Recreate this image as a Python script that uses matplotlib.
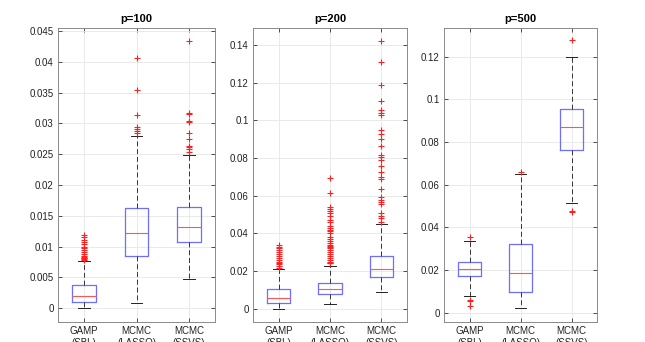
import matplotlib
matplotlib.use("Agg")
import matplotlib.pyplot as plt
from matplotlib.ticker import FuncFormatter

categories = ["GAMP\n(SBL)", "MCMC\n(LASSO)", "MCMC\n(SSVS)"]
titles = ["p=100", "p=200", "p=500"]

# p=100 : [whislo, q1, med, q3, whishi]
p100_stats = [
    [0.0000, 0.00097, 0.00194, 0.0037, 0.0076],
    [0.0008, 0.0084, 0.0122, 0.0162, 0.0280],
    [0.0048, 0.0107, 0.0132, 0.0164, 0.0248],
]
p100_fliers = [
    [0.0079, 0.0080, 0.0081, 0.0082, 0.0083, 0.0085, 0.0088, 0.0091, 0.0094,
     0.0097, 0.0100, 0.0104, 0.0108, 0.0111, 0.0116, 0.0119],
    [0.0285, 0.0288, 0.0291, 0.0294, 0.0313, 0.0355, 0.0407],
    [0.0254, 0.0258, 0.0261, 0.0264, 0.0274, 0.0284, 0.0302, 0.0304,
     0.0315, 0.0317, 0.0434],
]

# p=200
p200_stats = [
    [0.0000, 0.0028, 0.0055, 0.0103, 0.0209],
    [0.0023, 0.0076, 0.0103, 0.0138, 0.0227],
    [0.0087, 0.0166, 0.0209, 0.0281, 0.0448],
]
p200_fliers = [
    [0.0215, 0.0225, 0.0235, 0.0240, 0.0250, 0.0260, 0.0270, 0.0280, 0.0290,
     0.0300, 0.0310, 0.0320, 0.0330, 0.0338],
    [0.0240, 0.0245, 0.0250, 0.0260, 0.0270, 0.0280, 0.0290, 0.0300, 0.0310,
     0.0320, 0.0330, 0.0335, 0.0340, 0.0350, 0.0360, 0.0370, 0.0380, 0.0400,
     0.0410, 0.0420, 0.0430, 0.0440, 0.0460, 0.0470, 0.0490, 0.0510, 0.0520,
     0.0530, 0.0540, 0.0615, 0.0694],
    [0.0462, 0.0480, 0.0492, 0.0506, 0.0554, 0.0565, 0.0577, 0.0595, 0.0637,
     0.0688, 0.0701, 0.0727, 0.0759, 0.0789, 0.0807, 0.0816, 0.0865, 0.0899,
     0.0926, 0.0949, 0.1028, 0.1040, 0.1055, 0.1104, 0.1188, 0.1308, 0.1423],
]

# p=500
p500_stats = [
    [0.0078, 0.0172, 0.0203, 0.0239, 0.0336],
    [0.0020, 0.0095, 0.0184, 0.0320, 0.0648],
    [0.0513, 0.0764, 0.0869, 0.0955, 0.1200],
]
p500_fliers = [
    [0.0031, 0.0055, 0.0059, 0.0353],
    [0.0659],
    [0.0472, 0.0478, 0.1277],
]

yticks_list = [
    [0, 0.005, 0.01, 0.015, 0.02, 0.025, 0.03, 0.035, 0.04, 0.045],
    [0, 0.02, 0.04, 0.06, 0.08, 0.1, 0.12, 0.14],
    [0, 0.02, 0.04, 0.06, 0.08, 0.1, 0.12],
]
ylims = [(-0.0022, 0.0455), (-0.0069, 0.149), (-0.0042, 0.1334)]

all_stats = [p100_stats, p200_stats, p500_stats]
all_fliers = [p100_fliers, p200_fliers, p500_fliers]

plt.rcParams['font.family'] = ['Liberation Sans', 'DejaVu Sans']

fig = plt.figure(figsize=(6.45, 3.42), dpi=100)
W, H = 645, 342
axes_px = [(58, 215), (253, 407), (444, 597)]
top_px, bot_px = 28, 321.7

fmt = FuncFormatter(lambda v, p: ("%g" % round(v, 6)))

for i in range(3):
    l, r = axes_px[i]
    ax = fig.add_axes([l / W, 1 - bot_px / H, (r - l) / W, (bot_px - top_px) / H])
    stats = []
    for j in range(3):
        s = all_stats[i][j]
        stats.append(dict(whislo=s[0], q1=s[1], med=s[2], q3=s[3], whishi=s[4],
                          fliers=all_fliers[i][j], label=categories[j]))
    ax.bxp(stats, positions=[1, 2, 3], widths=0.45, capwidths=0.22,
           showfliers=True,
           boxprops=dict(color='#6e6eff', linewidth=0.9),
           medianprops=dict(color='#ff5555', linewidth=0.8),
           whiskerprops=dict(color='#333333', linewidth=0.7, linestyle=(0, (5, 3))),
           capprops=dict(color='#222222', linewidth=0.7),
           flierprops=dict(marker='+', markeredgecolor='#ff2020', markersize=4.5,
                           markeredgewidth=0.8, linestyle='none'))
    ax.set_xlim(0.5, 3.5)
    ax.set_ylim(*ylims[i])
    ax.set_yticks(yticks_list[i])
    ax.yaxis.set_major_formatter(fmt)
    ax.set_xticks([1, 2, 3])
    ax.set_xticklabels(categories, fontsize=7, color='#222222', linespacing=1.3)
    ax.tick_params(axis='y', labelsize=7, labelcolor='#222222')
    ax.tick_params(direction='in', length=3, color='#333333', width=0.6,
                   top=True, right=True, pad=3)
    ax.grid(True, color='#e6e6e6', linewidth=0.6)
    ax.set_axisbelow(True)
    for sp in ax.spines.values():
        sp.set_color('#8a8a8a')
        sp.set_linewidth(0.7)
    ax.set_title(titles[i], fontsize=8, fontweight='bold', pad=4)

fig.savefig("out.png", dpi=100, facecolor='white')
